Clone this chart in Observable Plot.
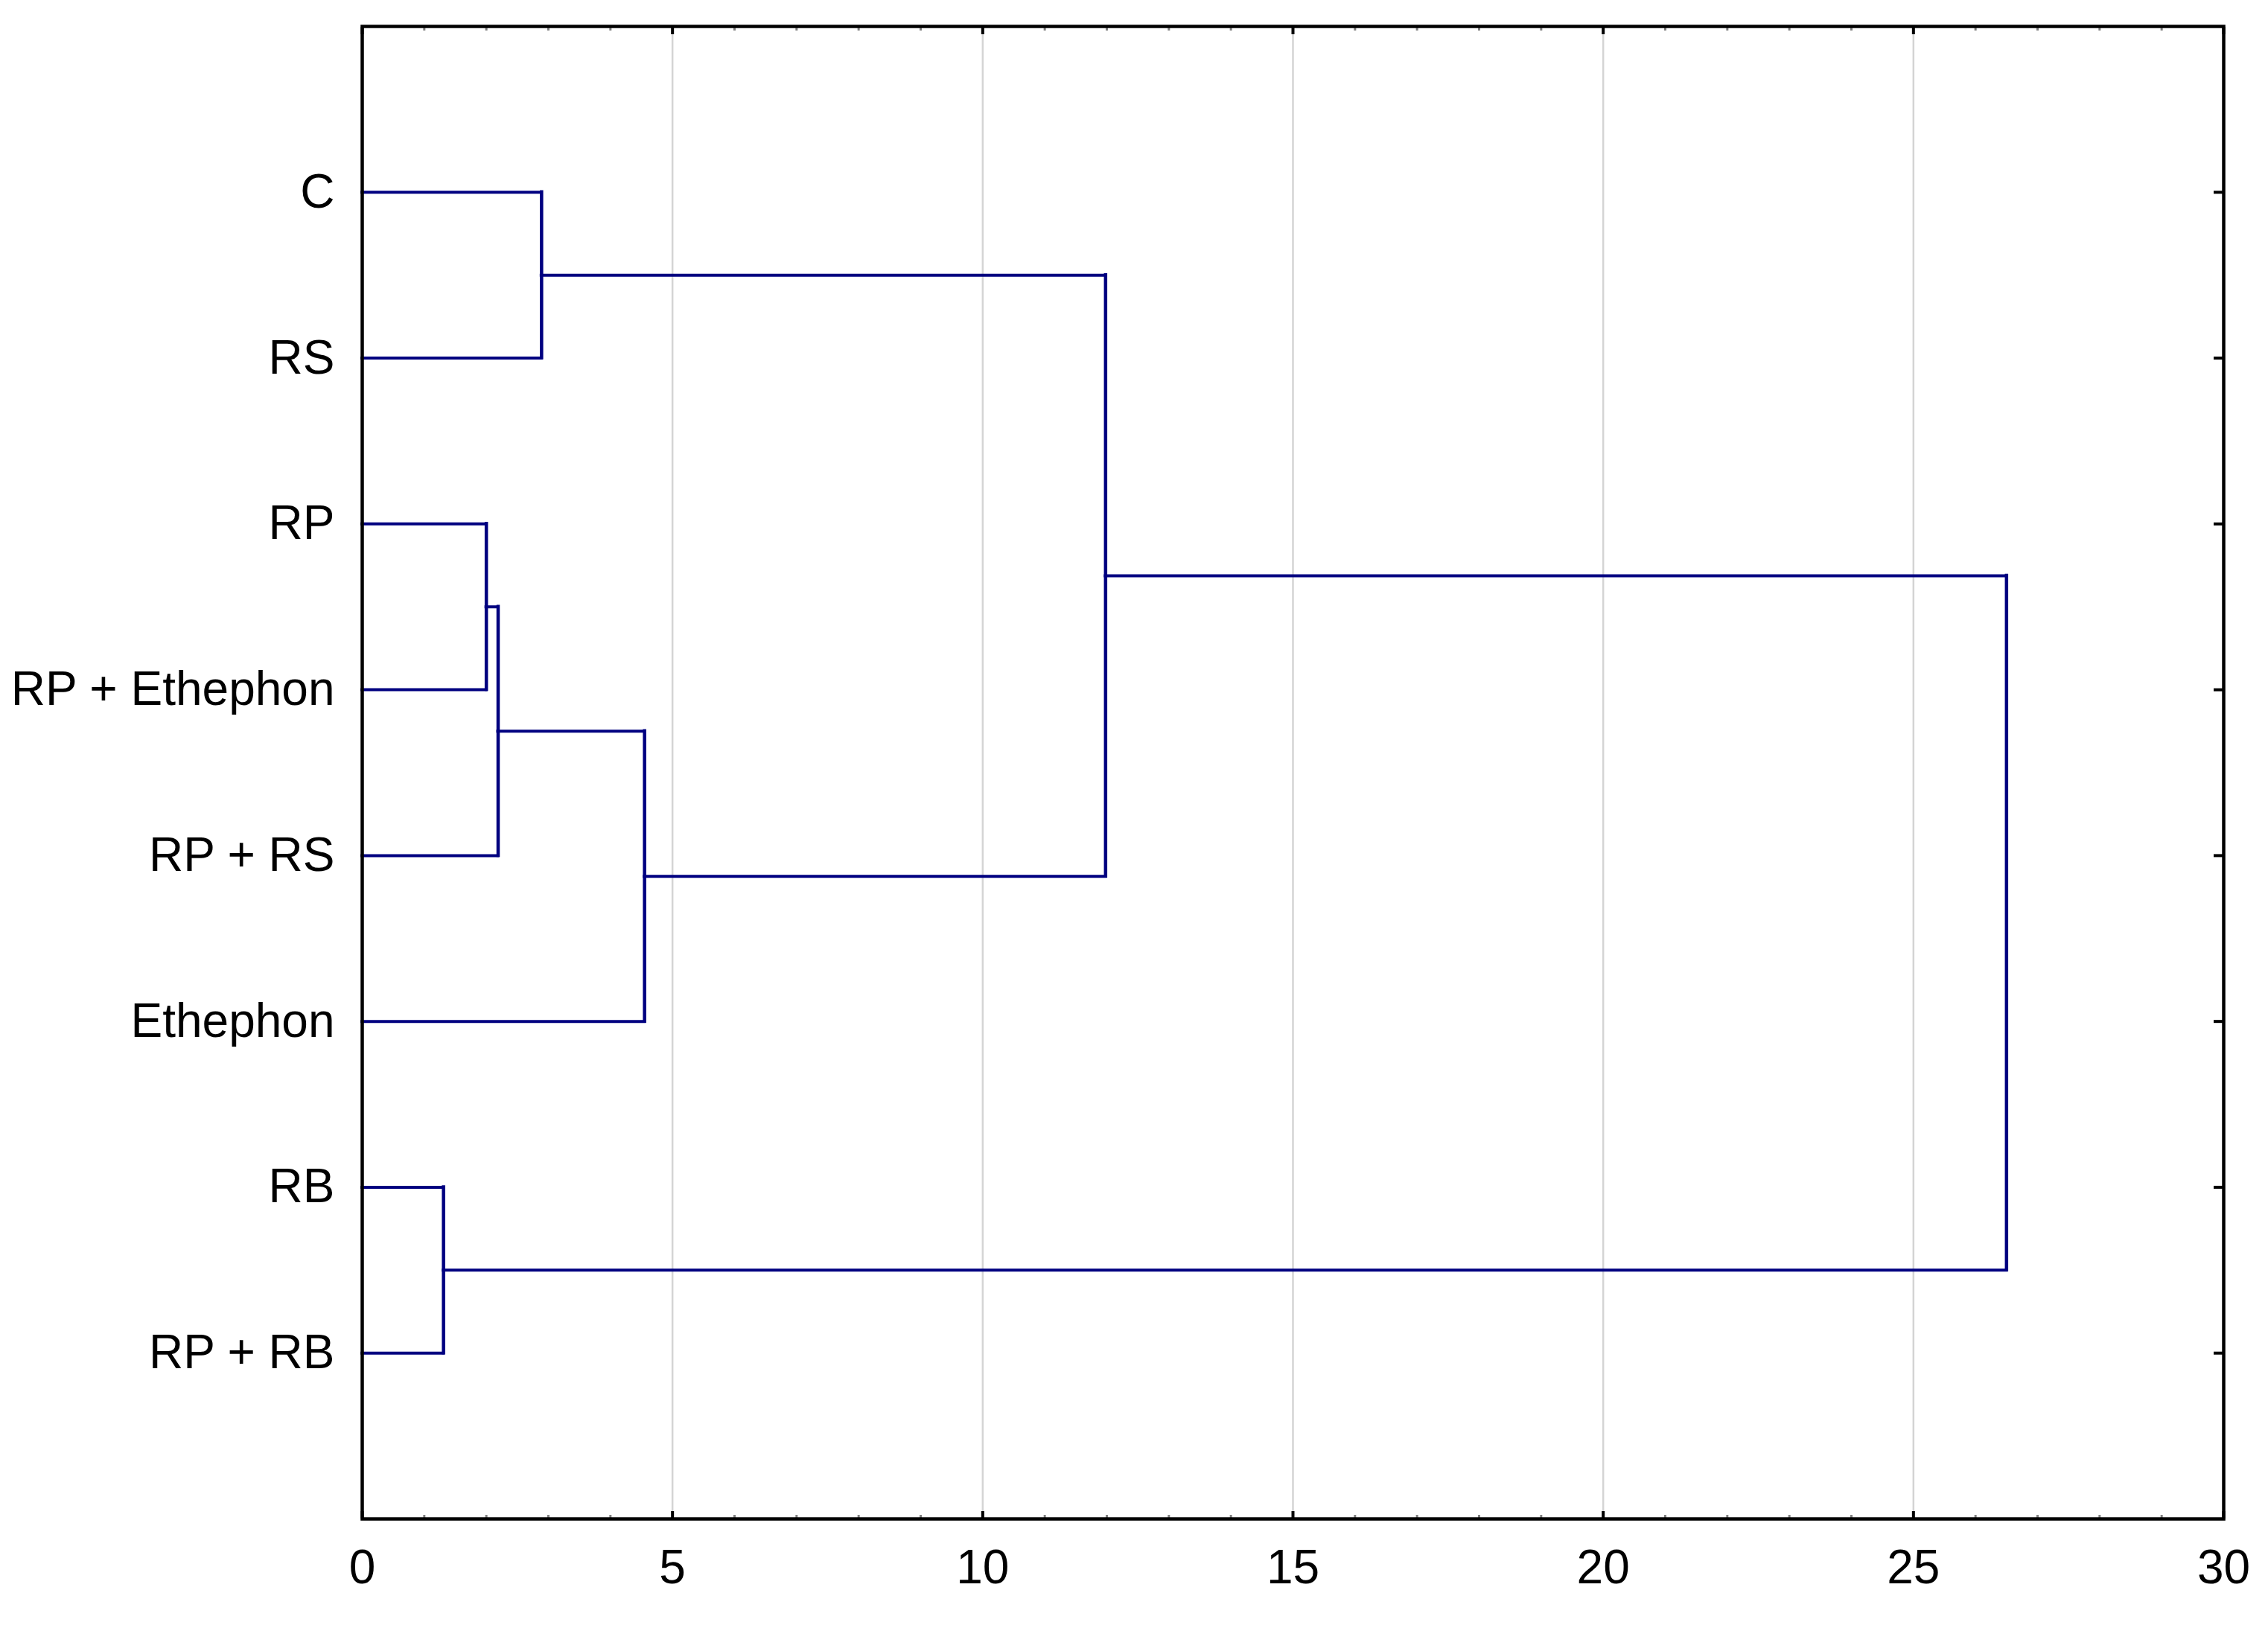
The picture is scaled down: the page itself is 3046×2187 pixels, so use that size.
<!DOCTYPE html>
<html><head><meta charset="utf-8">
<script src="https://cdn.jsdelivr.net/npm/d3@7"></script>
<script src="https://cdn.jsdelivr.net/npm/@observablehq/plot@0.6"></script>
<style>body{margin:0;background:#fff}</style>
</head><body><div id="chart"></div>
<script>
// Leaves (top to bottom)
const leaves = ["C", "RS", "RP", "RP + Ethephon", "RP + RS", "Ethephon", "RB", "RP + RB"];
// Linkage steps: node N1..N7 joins mergeA[k] and mergeB[k] at distance mergeDist[k]
const mergeA = ["RB", "RP", "N2", "C", "N3", "N4", "N6"];
const mergeB = ["RP + RB", "RP + Ethephon", "RP + RS", "RS", "Ethephon", "N5", "N1"];
const mergeDist = [1.31, 2.00, 2.19, 2.89, 4.55, 11.98, 26.50];
// Axis ticks
const xTicks = [0, 5, 10, 15, 20, 25, 30];
const gridTicks = [5, 10, 15, 20, 25];
const minorTicks = [1,2,3,4,6,7,8,9,11,12,13,14,16,17,18,19,21,22,23,24,26,27,28,29];
const leafTicks = [1, 2, 3, 4, 5, 6, 7, 8];

const pos = {}, hgt = {};
leaves.forEach((l, i) => { pos[l] = i + 1; hgt[l] = 0; });
const horiz = [], vert = [];
mergeA.forEach((a, k) => {
  const b = mergeB[k], d = mergeDist[k], id = "N" + (k + 1);
  horiz.push({y: pos[a], x1: hgt[a], x2: d});
  horiz.push({y: pos[b], x1: hgt[b], x2: d});
  vert.push({x: d, y1: pos[a], y2: pos[b]});
  pos[id] = (pos[a] + pos[b]) / 2;
  hgt[id] = d;
});

const navy = "#000080";
const chart = Plot.plot({
  width: 3046, height: 2187,
  marginLeft: 486, marginRight: 60, marginTop: 35, marginBottom: 147,
  style: {fontFamily: "'Liberation Sans', Arial, sans-serif", background: "white", color: "black"},
  x: {domain: [0, 30]},
  y: {domain: [9, 0]},
  marks: [
    Plot.gridX(gridTicks, {stroke: "#d4d4d4", strokeOpacity: 1, strokeWidth: 2.5}),
    Plot.ruleY(horiz, {y: "y", x1: "x1", x2: "x2", stroke: navy, strokeWidth: 4, strokeLinecap: "square"}),
    Plot.ruleX(vert, {x: "x", y1: "y1", y2: "y2", stroke: navy, strokeWidth: 4.5, strokeLinecap: "square"}),
    Plot.axisX(minorTicks, {anchor: "bottom", tickSize: -5, tickFormat: () => "", stroke: "#808080", strokeWidth: 3}),
    Plot.axisX(minorTicks, {anchor: "top", tickSize: -5, tickFormat: () => "", stroke: "#808080", strokeWidth: 3}),
    Plot.axisX(xTicks, {anchor: "bottom", tickSize: -10, tickFormat: () => "", stroke: "black", strokeWidth: 4}),
    Plot.axisX(xTicks, {anchor: "top", tickSize: -10, tickFormat: () => "", stroke: "black", strokeWidth: 4}),
    Plot.axisX(xTicks, {anchor: "bottom", tickSize: 0, tickPadding: 41, fontSize: 64, fill: "black", label: null}),
    Plot.axisY(leafTicks, {anchor: "right", tickSize: -14, tickFormat: () => "", stroke: "black", strokeWidth: 4, label: null}),
    Plot.axisY(leafTicks, {anchor: "left", tickSize: 0, tickPadding: 37, tickFormat: i => leaves[i - 1], fontSize: 64, fill: "black", label: null}),
    Plot.frame({stroke: "black", strokeWidth: 4.5})
  ]
});
document.getElementById("chart").append(chart);
</script>
</body></html>
